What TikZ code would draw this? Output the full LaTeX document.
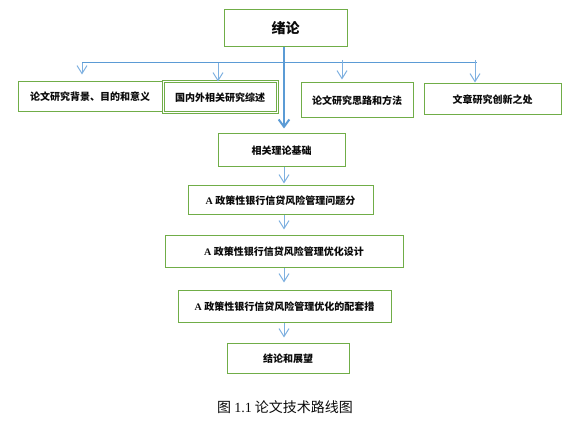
\documentclass[tikz,border=0pt]{standalone}
\usepackage{fontspec,xcolor,tikz}
\usetikzlibrary{arrows.meta}
\setmainfont{Liberation Serif}
\newfontfamily\cjk{Noto Sans CJK SC}
\definecolor{ink}{HTML}{0A0A0A}
\definecolor{rahmen}{HTML}{70AD47}
\definecolor{strang}{HTML}{5B9BD5}
\definecolor{zweig}{HTML}{7EB0E0}
\newcommand{\klein}{\fontsize{7.5}{9}\selectfont}
\newcommand{\gross}{\fontsize{10.5}{12}\selectfont}
\newcommand{\lat}[1]{{\rmfamily #1}}
\tikzset{kasten/.style={draw=rahmen,line width=0.75pt,inner sep=0,text=ink,font=\cjk\klein\bfseries},
  doppelkasten/.style={kasten,double=white,double distance=0.75pt},
  zweigpfeil/.style={zweig,line width=0.75pt,-{Straight Barb[length=6pt,width=7.5pt]}},
  strangpfeil/.style={strang,line width=1.5pt,-{Straight Barb[length=5.5pt,width=8pt]}}}

\begin{document}
\begin{tikzpicture}[x=0.75pt,y=-0.75pt]
\useasboundingbox (0,0) rectangle (578,427);
\node[kasten,font=\cjk\gross\bfseries,minimum width=92.25pt,minimum height=27.75pt] (lead) at (285.5,28.5) {绪论};
\node[kasten,minimum width=108pt,minimum height=22.5pt] (hg) at (90,97) {论文研究背景、目的和意义};
\node[doppelkasten,minimum width=85.5pt,minimum height=23.25pt] (stand) at (220,97.5) {国内外相关研究综述};
\node[kasten,minimum width=84pt,minimum height=26.25pt] (methode) at (357,100.5) {论文研究思路和方法};
\node[kasten,minimum width=102.75pt,minimum height=23.25pt] (neu) at (492.5,99.5) {文章研究创新之处};
\node[kasten,minimum width=95.25pt,minimum height=24.75pt] (theorie) at (281.5,150.5) {相关理论基础};
\node[kasten,minimum width=138.75pt,minimum height=21.75pt] (problem) at (280.5,200.5) {\lat{A} 政策性银行信贷风险管理问题分};
\node[kasten,minimum width=178.5pt,minimum height=24pt] (design) at (284,252) {\lat{A} 政策性银行信贷风险管理优化设计};
\node[kasten,minimum width=159.75pt,minimum height=24pt] (mass) at (284.5,307) {\lat{A} 政策性银行信贷风险管理优化的配套措};
\node[kasten,minimum width=91.5pt,minimum height=22.5pt] (schluss) at (288,359) {结论和展望};
\node[inner sep=0,text=ink,font=\cjk\gross] (titel) at (285,407) {图 \lat{1.1} 论文技术路线图};
\coordinate (achse) at (284,0);
\coordinate (links) at (82,63);
\coordinate (rechts) at (477,63);
\coordinate (ast1) at (82,63);
\coordinate (ast2) at (218,63);
\coordinate (ast3) at (342,60);
\coordinate (ast4) at (475,60);
\draw[strang,line width=0.75pt] (links) -- (rechts);
\draw[zweigpfeil,shorten >=5.25pt] (ast1) -- (ast1 |- hg.north);
\draw[zweigpfeil] (ast2) -- (ast2 |- stand.north);
\draw[zweigpfeil,shorten >=2.25pt] (ast3) -- (ast3 |- methode.north);
\draw[zweigpfeil,shorten >=0.75pt] (ast4) -- (ast4 |- neu.north);
\draw[strangpfeil,shorten >=3.75pt] (lead.south -| achse) -- (theorie.north -| achse);
\draw[zweigpfeil,shorten >=1.5pt] (theorie.south -| achse) -- (problem.north -| achse);
\draw[zweigpfeil,shorten >=4.5pt] (problem.south -| achse) -- (design.north -| achse);
\draw[zweigpfeil,shorten >=6pt] (design.south -| achse) -- (mass.north -| achse);
\draw[zweigpfeil,shorten >=4.5pt] (mass.south -| achse) -- (schluss.north -| achse);
\end{tikzpicture}
\end{document}
